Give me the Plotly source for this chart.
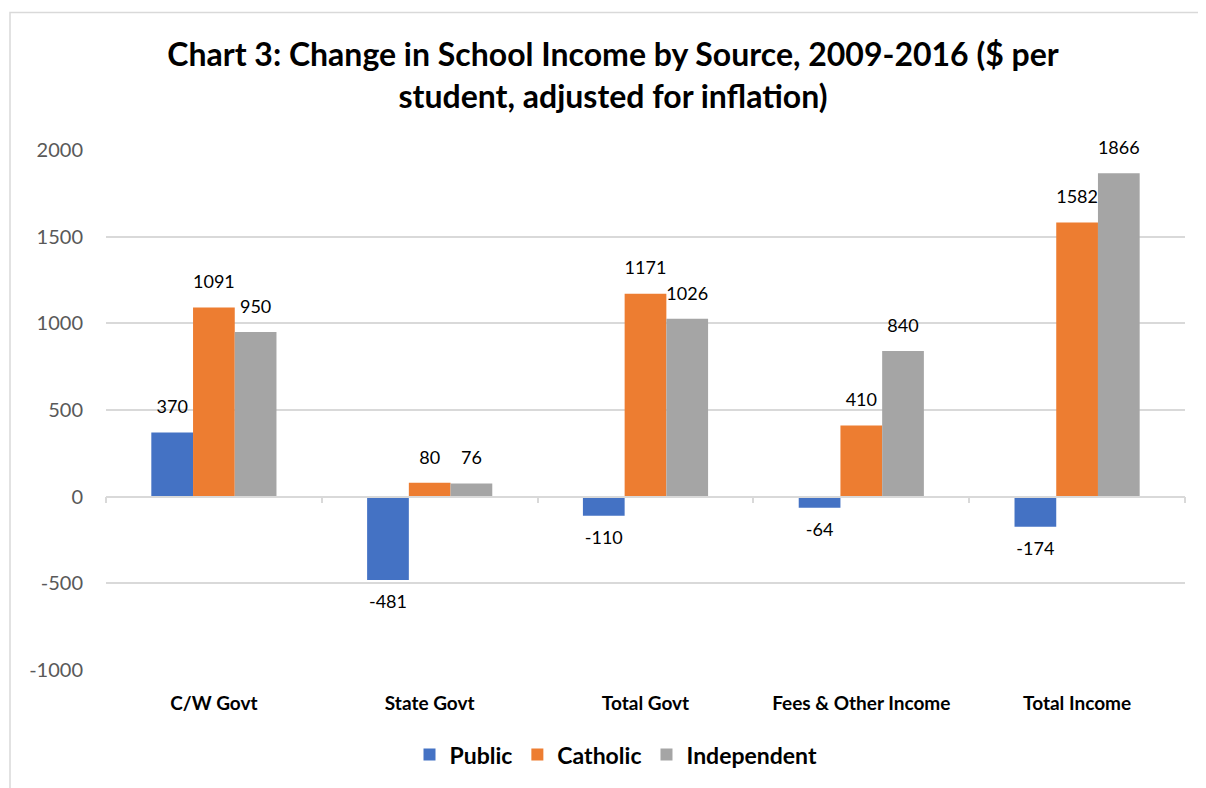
import plotly.graph_objects as go

categories = ["C/W Govt", "State Govt", "Total Govt", "Fees & Other Income", "Total Income"]
public = [370, -481, -110, -64, -174]
catholic = [1091, 80, 1171, 410, 1582]
independent = [950, 76, 1026, 840, 1866]
series_names = ["Public", "Catholic", "Independent"]
colors = ["#4472C4", "#ED7D31", "#A5A5A5"]
y_ticks = [-1000, -500, 0, 500, 1000, 1500, 2000]

FONT = "Lato, Carlito, 'Open Sans', sans-serif"

fig = go.Figure()
for name, vals, col in zip(series_names, [public, catholic, independent], colors):
    fig.add_trace(go.Bar(
        x=categories, y=vals, name=name,
        marker=dict(color=col, line=dict(width=0)),
        offsetgroup=name,
    ))

# data labels (grouped scatter aligned with bars)
for name, vals in zip(series_names, [public, catholic, independent]):
    fig.add_trace(go.Scatter(
        x=categories, y=vals, mode="markers+text",
        text=[str(v) for v in vals],
        textposition=["top center" if v >= 0 else "bottom center" for v in vals],
        textfont=dict(size=18, color="#000000", family=FONT),
        marker=dict(size=22, color="rgba(0,0,0,0)"),
        offsetgroup=name, showlegend=False, hoverinfo="skip", cliponaxis=False,
    ))

# invisible trace to carry the zero-positioned category axis (tick marks)
fig.add_trace(go.Scatter(x=categories, y=[0] * len(categories), xaxis="x2", yaxis="y",
                         mode="markers", marker=dict(opacity=0), showlegend=False,
                         hoverinfo="skip"))

# page body has an 8px margin; compensate
OFF = 8
W, H = 1206 - OFF, 788 - OFF
l, r, t, b = 106 - OFF, 21, 150 - OFF, 116
pw, ph = W - l - r, H - t - b

fig.update_layout(
    width=W, height=H,
    margin=dict(l=l, r=r, t=t, b=b),
    paper_bgcolor="white", plot_bgcolor="white",
    font=dict(family=FONT, color="#000000"),
    title=dict(text="Chart 3: Change in School Income by Source, 2009-2016 ($ per<br>student, adjusted for inflation)",
               x=(613 - OFF) / W, xanchor="center", y=1 - (66 - OFF) / H, yanchor="middle",
               font=dict(size=32, family=FONT, color="#000000", weight="bold")),
    barmode="group", bargap=0.42, bargroupgap=0,
    scattermode="group", scattergap=0.42,
    legend=dict(orientation="h", x=(616 - OFF - l) / pw, xanchor="center",
                y=-(757 - 672) / ph, yanchor="middle",
                font=dict(size=23, family=FONT, color="#000000", weight="bold")),
    xaxis=dict(showgrid=False, showline=False, ticks="", zeroline=False,
               tickfont=dict(size=19, family=FONT, color="#000000", weight="bold"),
               ticklabelstandoff=20),
    xaxis2=dict(overlaying="x", matches="x", anchor="free", position=1 / 3,
                showline=True, linecolor="#D9D9D9", linewidth=1.5,
                ticks="outside", tickson="boundaries", ticklen=6, tickcolor="#D9D9D9", tickwidth=1.5,
                showticklabels=False, showgrid=False, zeroline=False),
    yaxis=dict(range=[-1000, 2000], tickmode="array", tickvals=y_ticks,
               ticktext=[str(v) for v in y_ticks],
               showgrid=True, gridcolor="#D9D9D9", gridwidth=1.5,
               zeroline=False, showline=False, ticks="",
               tickfont=dict(size=20, family=FONT, color="#595959"),
               ticklabelstandoff=22),
)

# chart frame border (light grey)
fig.add_shape(type="rect", xref="paper", yref="paper",
              x0=(10 - OFF - l) / pw, x1=(1240 - OFF - l) / pw,
              y0=-(820 - 672) / ph, y1=(672 - 12) / ph,
              line=dict(color="#D9D9D9", width=1.5), fillcolor="rgba(0,0,0,0)", layer="below")

fig.write_html("out.html")
